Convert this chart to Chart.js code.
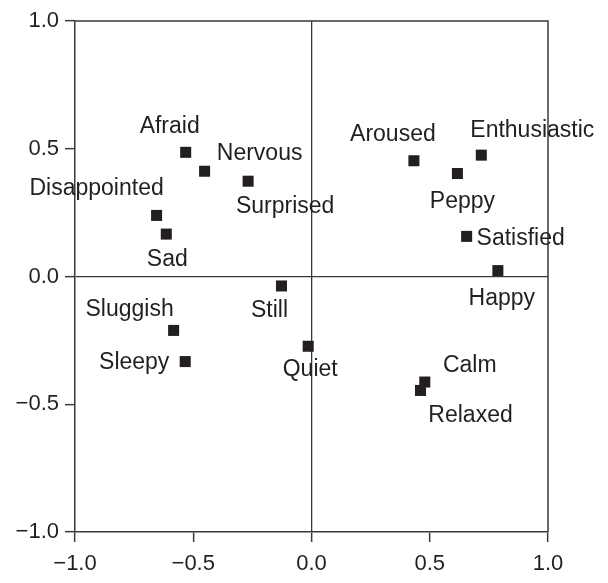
<!DOCTYPE html>
<html>
<head>
<meta charset="utf-8">
<script src="https://cdn.jsdelivr.net/npm/chart.js@4"></script>
<style>
  body { margin: 0; background: #fff; }
  #wrap { width: 608px; height: 583px; position: relative; }
</style>
</head>
<body>
<div id="wrap"><canvas id="myChart"></canvas></div>
<script>
// mood words and their coordinates
const words = ['Afraid', 'Nervous', 'Surprised', 'Disappointed', 'Sad', 'Still', 'Sluggish', 'Sleepy', 'Quiet',
               'Aroused', 'Enthusiastic', 'Peppy', 'Satisfied', 'Happy', 'Calm', 'Relaxed']
const xValues = [-0.532, -0.452, -0.268, -0.655, -0.614, -0.127, -0.583, -0.534, -0.014,
                 0.433, 0.718, 0.617, 0.656, 0.788, 0.479, 0.461]
const yValues = [0.486, 0.412, 0.373, 0.239, 0.166, -0.037, -0.211, -0.333, -0.273,
                 0.453, 0.475, 0.403, 0.157, 0.023, -0.413, -0.446]
const tickValues = [-1.0, -0.5, 0.0, 0.5, 1.0]

// where each word sits relative to its marker (dx, dy to baseline)
const labelOffsets = {
    Afraid: [-16, -19], Nervous: [55, -11], Surprised: [37, 32], Disappointed: [-60, -20],
    Sad: [1, 32], Still: [-12, 31], Sluggish: [-44, -14], Sleepy: [-51, 7], Quiet: [2, 30],
    Aroused: [-21, -20], Enthusiastic: [51, -18], Peppy: [5, 34], Satisfied: [54, 9],
    Happy: [4, 34], Calm: [45, -10], Relaxed: [50, 32]
}

const ink = '#231f20'
const lineCol = '#3a3a3a'

const points = xValues.map((x, i) => ({ x: x, y: yValues[i] }))

const fmt = v => (v < 0 ? '\u2212' : '') + Math.abs(v).toFixed(1)

const wordLabels = {
    id: 'wordLabels',
    afterDatasetsDraw(chart) {
        const ctx = chart.ctx
        const meta = chart.getDatasetMeta(0)
        ctx.save()
        ctx.font = '23px "Liberation Sans", Arial, sans-serif'
        ctx.fillStyle = ink
        ctx.textAlign = 'center'
        ctx.textBaseline = 'alphabetic'
        meta.data.forEach((pt, i) => {
            const off = labelOffsets[words[i]]
            ctx.fillText(words[i], pt.x + off[0], pt.y + off[1])
        })
        ctx.restore()
    }
}

const frame = {
    id: 'frame',
    beforeDatasetsDraw(chart) {
        const a = chart.chartArea
        const ctx = chart.ctx
        ctx.save()
        ctx.strokeStyle = lineCol
        ctx.lineWidth = 1.5
        ctx.beginPath()
        ctx.moveTo(a.left, a.top)
        ctx.lineTo(a.right, a.top)
        ctx.lineTo(a.right, a.bottom)
        ctx.stroke()
        ctx.restore()
    }
}

const axisOpts = (isX) => ({
    type: 'linear',
    min: -1,
    max: 1,
    afterBuildTicks: s => { s.ticks = tickValues.map(v => ({ value: v })) },
    afterFit: s => { if (isX) s.height = 51; else s.width = 75 },
    border: { display: true, color: lineCol, width: 1.5 },
    grid: {
        color: c => c.tick && c.tick.value === 0 ? lineCol : 'rgba(0,0,0,0)',
        lineWidth: 1.3,
        tickColor: lineCol,
        tickLength: 10,
        tickWidth: 1.5
    },
    ticks: {
        color: ink,
        padding: isX ? 9 : 6,
        maxRotation: 0,
        font: { family: '"Liberation Sans", Arial, sans-serif', size: 22 },
        callback: v => fmt(v)
    }
})

const ctx = document.getElementById('myChart')
const myChart = new Chart(ctx, {
    type: 'scatter',
    data: {
        datasets: [{
            data: points,
            pointStyle: 'rect',
            pointRadius: 7.8,
            pointHoverRadius: 7.8,
            backgroundColor: ink,
            borderColor: ink,
            borderWidth: 0
        }]
    },
    options: {
        responsive: true,
        maintainAspectRatio: false,
        animation: false,
        layout: { padding: { top: 21, right: 60, left: 0, bottom: 0 } },
        plugins: {
            legend: { display: false },
            tooltip: { enabled: false }
        },
        scales: {
            x: axisOpts(true),
            y: axisOpts(false)
        }
    },
    plugins: [frame, wordLabels]
})
</script>
</body>
</html>
